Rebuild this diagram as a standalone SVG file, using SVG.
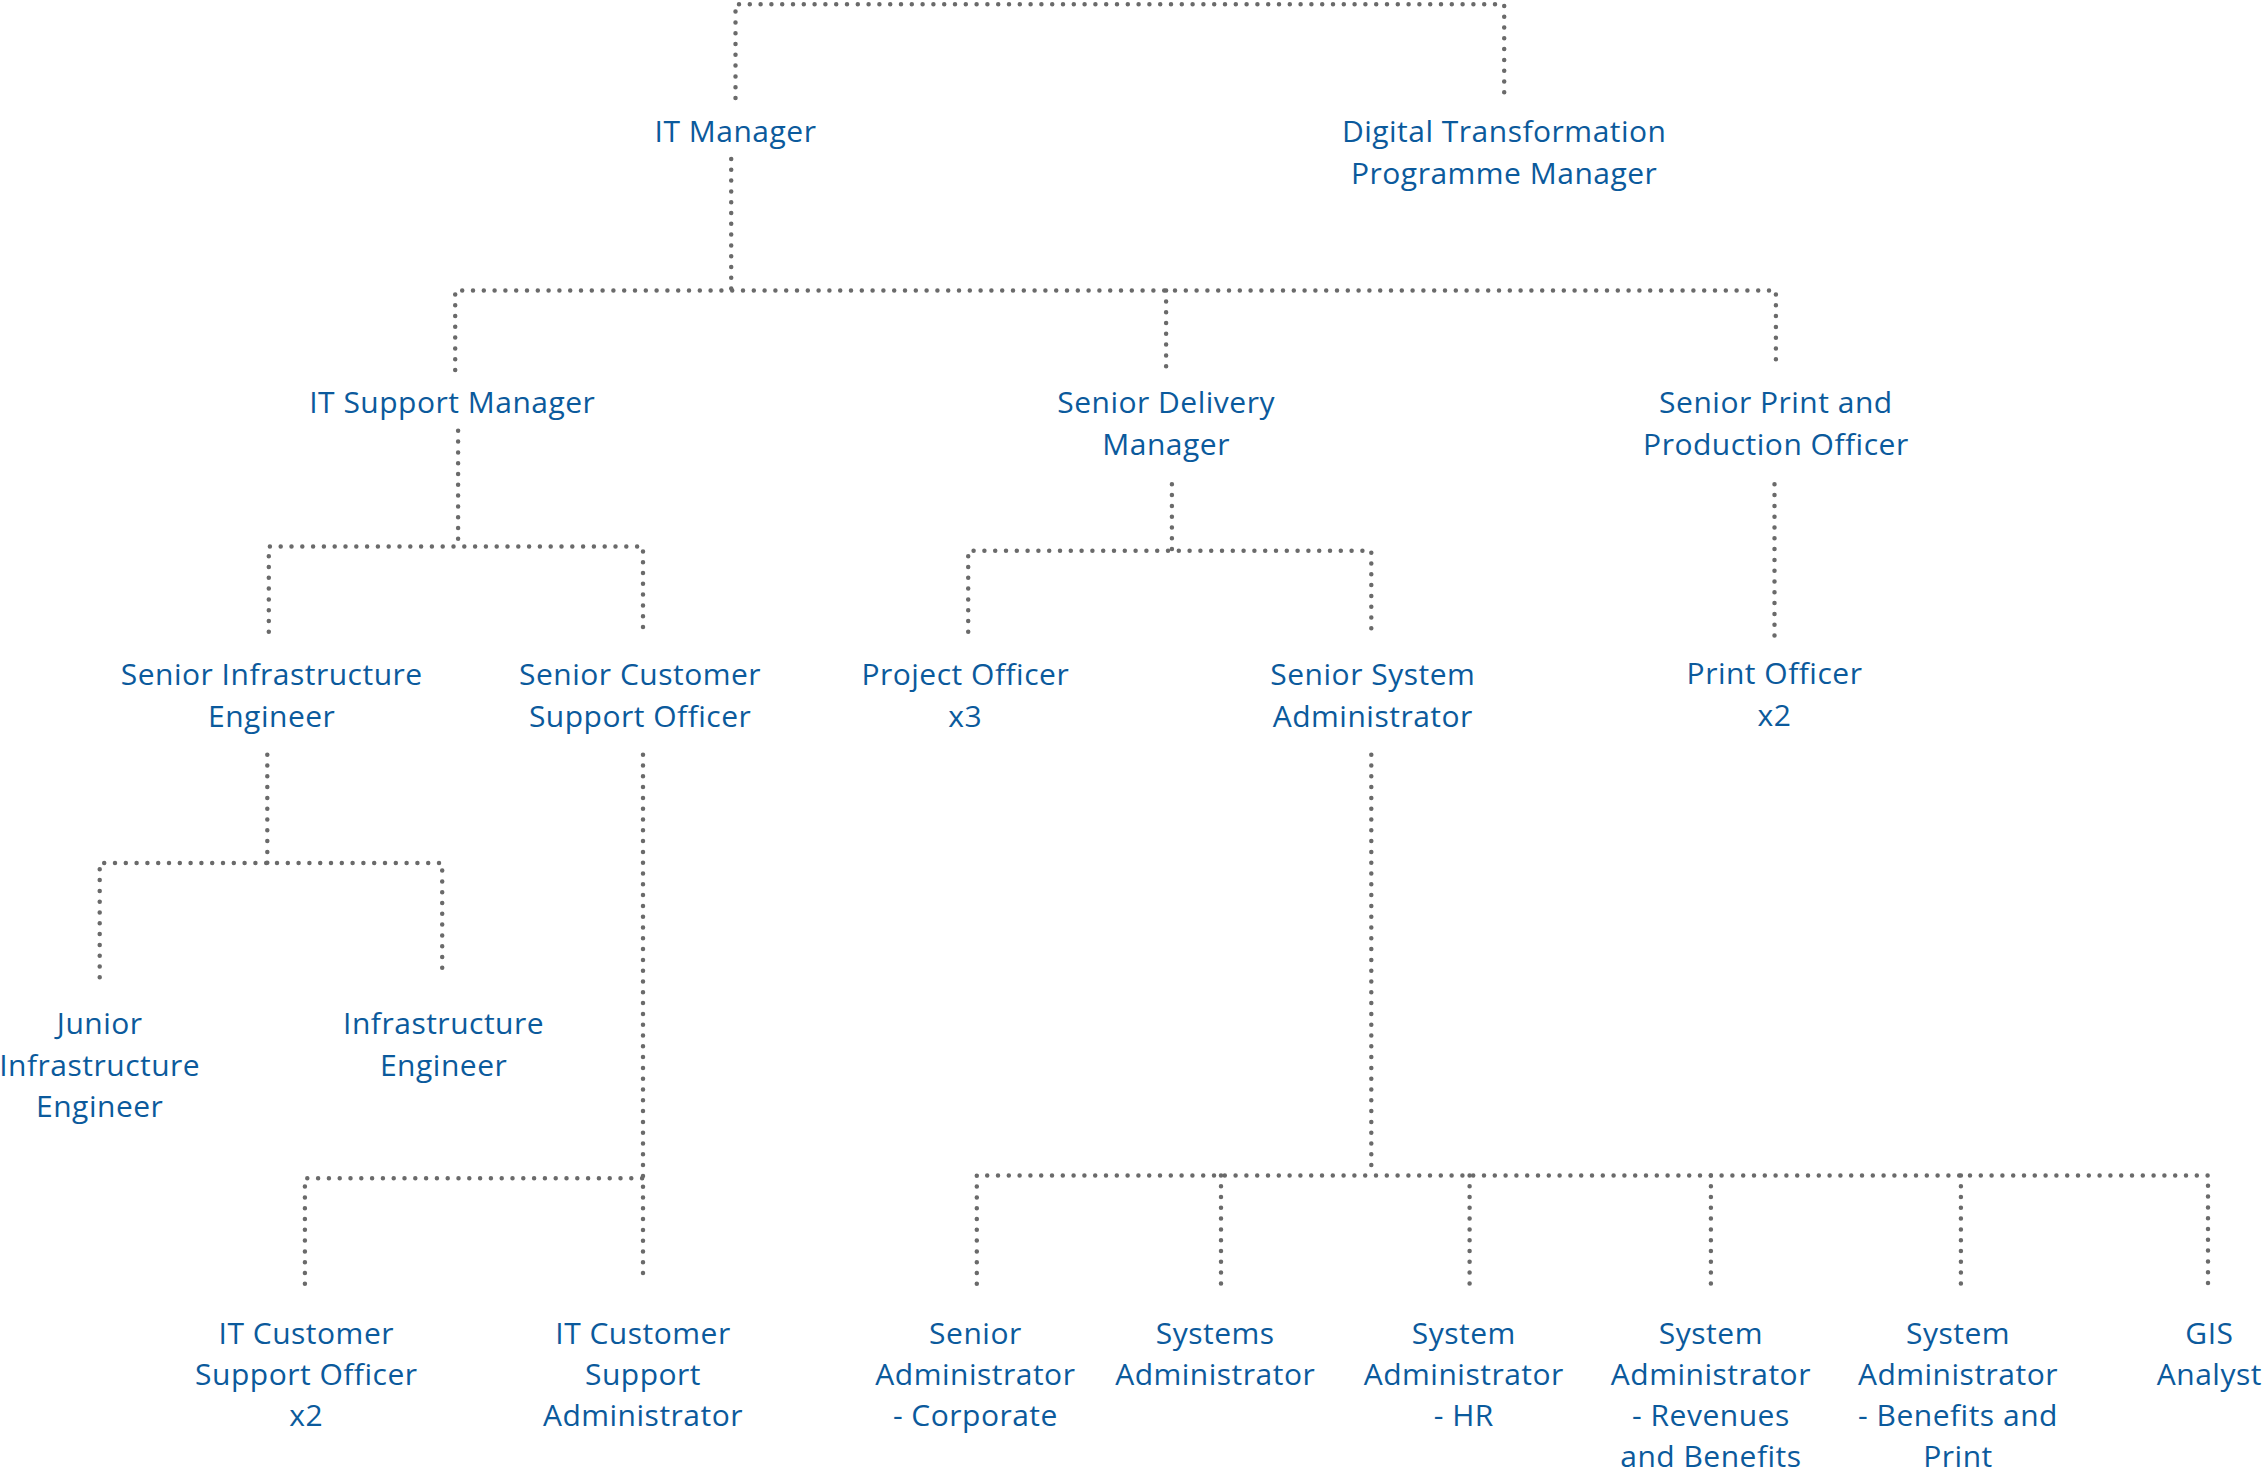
<svg xmlns="http://www.w3.org/2000/svg" width="2266" height="1476" viewBox="0 0 2266 1476">
<style>
.c{fill:none;stroke:#6a6a6a;stroke-width:4.5;stroke-linecap:round;stroke-dasharray:0 10.8}
text{font-family:"Open Sans","Lato",sans-serif;font-size:30px;letter-spacing:0.5px;fill:#0b5a9c;text-anchor:middle}
</style>
<rect width="2266" height="1476" fill="#ffffff"/>
<g id="connectors">
<path class="c" d="M735.5,98 V4.3 H1504.2 V98"/>
<path class="c" d="M731.2,159 V290.6"/>
<path class="c" d="M455.2,370 V290.6 H1775.9 V370"/>
<path class="c" d="M1166.1,290.6 V370"/>
<path class="c" d="M458.1,430.8 V546.5"/>
<path class="c" d="M268.8,631.8 V546.5 H643 V631.8"/>
<path class="c" d="M1171.9,484.3 V550.8"/>
<path class="c" d="M968.2,631.8 V550.8 H1371.3 V631.8"/>
<path class="c" d="M1774.5,484.3 V636"/>
<path class="c" d="M267.3,754.7 V863"/>
<path class="c" d="M99.7,977.3 V863 H442.2 V977.3"/>
<path class="c" d="M643,754.7 V1278"/>
<path class="c" d="M304.9,1283.8 V1178.2 H643"/>
<path class="c" d="M1371.3,754.7 V1175.4"/>
<path class="c" d="M976.8,1283.8 V1175.4 H2208 V1283.8"/>
<path class="c" d="M1221,1175.4 V1283.8"/>
<path class="c" d="M1469.6,1175.4 V1283.8"/>
<path class="c" d="M1710.9,1175.4 V1283.8"/>
<path class="c" d="M1960.9,1175.4 V1283.8"/>
</g>
<g id="it-manager"><text x="735.5" y="142">IT Manager</text></g>
<g id="digital-transformation"><text x="1504.2" y="142">Digital Transformation</text><text x="1504.2" y="184">Programme Manager</text></g>
<g id="it-support-manager"><text x="452.3" y="413">IT Support Manager</text></g>
<g id="senior-delivery-manager"><text x="1166.1" y="413">Senior Delivery</text><text x="1166.1" y="455">Manager</text></g>
<g id="senior-print"><text x="1775.9" y="413">Senior Print and</text><text x="1775.9" y="455">Production Officer</text></g>
<g id="senior-infrastructure"><text x="271.7" y="685">Senior Infrastructure</text><text x="271.7" y="727">Engineer</text></g>
<g id="senior-customer-support"><text x="640.1" y="685">Senior Customer</text><text x="640.1" y="727">Support Officer</text></g>
<g id="project-officer"><text x="965.3" y="685">Project Officer</text><text x="965.3" y="727">x3</text></g>
<g id="senior-system-admin"><text x="1372.8" y="685">Senior System</text><text x="1372.8" y="727">Administrator</text></g>
<g id="print-officer"><text x="1774.5" y="684">Print Officer</text><text x="1774.5" y="726">x2</text></g>
<g id="junior-infrastructure"><text x="99.7" y="1034">Junior</text><text x="99.7" y="1076">Infrastructure</text><text x="99.7" y="1117">Engineer</text></g>
<g id="infrastructure-engineer"><text x="443.6" y="1034">Infrastructure</text><text x="443.6" y="1076">Engineer</text></g>
<g id="it-customer-support-officer"><text x="306.3" y="1344">IT Customer</text><text x="306.3" y="1385">Support Officer</text><text x="306.3" y="1426">x2</text></g>
<g id="it-customer-support-admin"><text x="643" y="1344">IT Customer</text><text x="643" y="1385">Support</text><text x="643" y="1426">Administrator</text></g>
<g id="senior-admin-corporate"><text x="975.4" y="1344">Senior</text><text x="975.4" y="1385">Administrator</text><text x="975.4" y="1426">- Corporate</text></g>
<g id="systems-admin"><text x="1215.2" y="1344">Systems</text><text x="1215.2" y="1385">Administrator</text></g>
<g id="system-admin-hr"><text x="1463.8" y="1344">System</text><text x="1463.8" y="1385">Administrator</text><text x="1463.8" y="1426">- HR</text></g>
<g id="system-admin-revenues"><text x="1710.9" y="1344">System</text><text x="1710.9" y="1385">Administrator</text><text x="1710.9" y="1426">- Revenues</text><text x="1710.9" y="1467">and Benefits</text></g>
<g id="system-admin-benefits"><text x="1958" y="1344">System</text><text x="1958" y="1385">Administrator</text><text x="1958" y="1426">- Benefits and</text><text x="1958" y="1467">Print</text></g>
<g id="gis-analyst"><text x="2209.4" y="1344">GIS</text><text x="2209.4" y="1385">Analyst</text></g>
</svg>
